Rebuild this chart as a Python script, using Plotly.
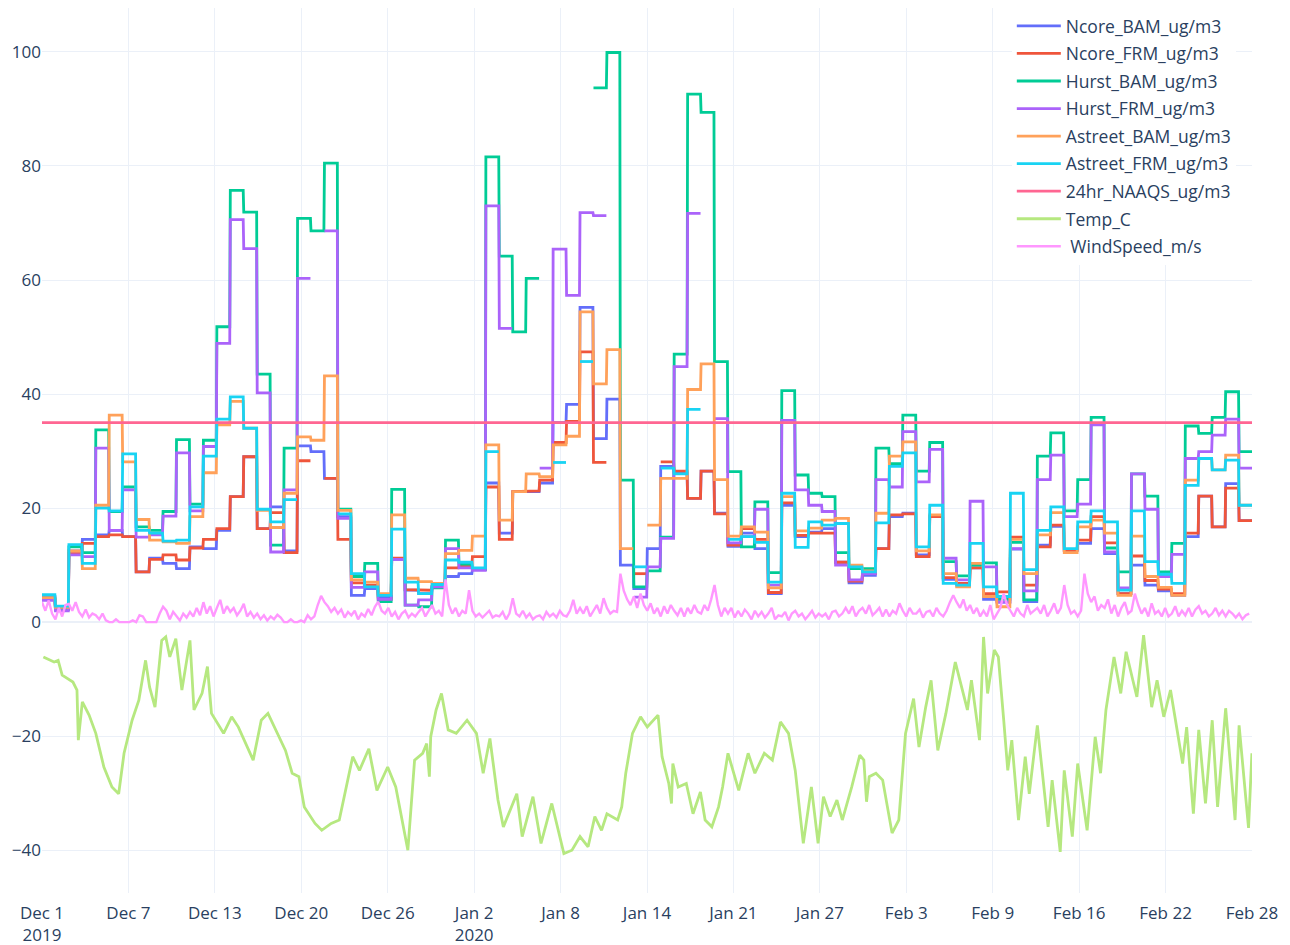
import numpy as np
import pandas as pd
import plotly.graph_objects as go

START = "2019-12-01"
N_DAYS = 90

# Daily 24-hr average PM2.5 values (Dec 1 2019 .. Feb 28 2020), None = no sample
ncore_bam = [4.5, 2.5, 12.5, 14.5, 15.3, 16.1, 15.0, 8.8, 11.2, 10.3,
             9.4, 13.2, 12.9, 16.1, 22.0, 29.0, 16.4, 20.2, 12.5, 30.9,
             29.9, 25.2, 18.5, 4.7, 5.9, 4.4, 11.0, 5.6, 5.0, 6.3,
             8.0, 8.5, 9.2, 24.4, 15.6, 22.9, 22.9, 24.4, 35.0, 38.2,
             55.2, 32.2, 39.1, 10.0, 5.9, 12.9, 27.3, 26.2, 21.7, 26.5,
             19.1, 13.3, 15.6, 12.9, 5.0, 20.5, 15.0, 15.8, 16.4, 10.5,
             6.9, 8.2, 12.9, 18.5, 19.1, 11.8, 18.5, 7.5, 6.5, 9.5,
             4.0, 3.5, 12.8, 3.6, 13.5, 16.8, 12.6, 13.8, 16.4, 12.0,
             5.0, 10.0, 6.5, 5.5, 4.7, 15.0, 22.1, 16.7, 24.3, 17.8]

ncore_frm = [4.2, 2.3, 12.0, 13.8, 15.0, 15.3, 15.0, 8.8, 11.0, 11.8,
             10.9, 13.0, 14.5, 16.4, 22.0, 29.0, 16.4, 19.2, 12.2, 28.3,
             None, 25.2, 14.5, 6.9, 6.5, 4.0, 11.2, 5.7, 5.6, 6.3,
             9.5, 9.8, 11.5, 23.7, 14.5, 22.9, 23.0, 24.9, 31.5, 35.2,
             47.4, 28.0, None, None, 8.5, None, 28.1, 26.5, 21.7, 26.5,
             19.0, 13.5, 16.4, 14.5, 5.2, 20.9, 15.2, 15.6, 15.6, 10.5,
             7.2, 8.5, 12.9, 18.8, 19.0, 11.5, 18.5, 7.8, 6.8, 9.5,
             5.0, 5.3, 14.9, 6.5, 13.2, 17.0, 12.6, 14.4, 18.5, 13.9,
             5.0, 11.6, 7.3, 5.8, 5.0, 15.6, 22.1, 16.7, 23.5, 17.8]

hurst_bam = [4.0, 2.2, 13.2, 12.2, 33.7, 19.4, 23.7, 16.7, 16.1, 19.4,
             32.0, 20.7, 31.9, 51.8, 75.7, 71.9, 43.5, 13.5, 30.5, 70.8,
             68.6, 80.5, 19.8, 8.0, 10.3, 3.6, 23.3, 3.0, 2.7, 6.0,
             14.4, 10.2, 9.2, 81.6, 64.2, 50.9, 60.3, None, None, None,
             None, 93.7, 99.9, 24.9, 6.2, 9.0, 14.9, 47.0, 92.6, 89.4,
             45.7, 26.4, 13.2, 21.1, 8.7, 40.6, 25.8, 22.6, 22.0, 12.2,
             9.4, 9.4, 30.5, 27.8, 36.3, 26.5, 31.5, 10.6, 8.1, 10.0,
             10.4, 4.0, 14.0, 3.9, 29.1, 33.2, 19.5, 25.0, 35.9, 13.0,
             8.8, 26.0, 22.1, 8.8, 13.8, 34.4, 33.1, 35.9, 40.4, 29.9]

hurst_frm = [3.8, 2.0, 11.8, 11.5, 30.5, 16.1, 23.2, 14.9, 15.3, 18.6,
             29.7, 19.5, 30.8, 48.9, 70.6, 65.5, 40.2, 12.3, 23.2, 60.3,
             None, 68.6, 18.2, 6.1, 8.8, 4.0, 11.0, 3.0, 3.9, 6.2,
             12.9, 9.5, 9.1, 73.0, 51.5, None, None, 27.0, 65.4, 57.3,
             71.8, 71.3, None, None, 4.4, 9.7, 14.7, 44.8, 71.7, None,
             35.7, 13.9, 15.0, 19.8, 6.5, 35.4, 23.2, 20.5, 19.4, 10.0,
             7.4, 8.5, 25.0, 23.7, 33.4, 24.6, 30.3, 11.2, 7.4, 21.2,
             9.7, 3.5, 12.9, 5.5, 25.0, 29.3, 18.5, 20.7, 34.6, 12.3,
             6.0, 26.0, 19.8, 8.0, 11.9, 28.7, 29.9, 32.8, 35.6, 27.0]

astreet_bam = [4.3, 2.6, 12.5, 9.4, 20.5, 36.3, 28.1, 18.0, 14.4, 14.1,
               13.8, 18.5, 26.2, 34.6, 38.7, 34.0, 19.6, 16.6, 22.6, 32.5,
               31.9, 43.2, 19.6, 7.4, 7.0, 5.0, 18.8, 7.7, 7.1, 6.8,
               12.0, 12.6, 15.1, 31.1, 17.9, 22.9, 26.0, 25.5, 31.1, 32.6,
               54.4, 41.8, 47.8, 12.9, None, 17.0, 25.2, 25.2, 40.8, 45.3,
               25.0, 15.1, 16.7, 15.8, 6.0, 22.0, 16.0, 16.5, 17.9, 18.2,
               10.0, 9.0, 19.1, 29.1, 31.6, 12.5, 18.8, 8.5, 6.2, 10.3,
               4.5, 2.7, 14.5, 8.5, 15.3, 19.2, 12.2, 16.7, 17.9, 15.6,
               4.7, 15.1, 8.0, 6.1, 4.7, 24.9, 28.7, 26.7, 29.3, 20.5]

astreet_frm = [4.8, 2.8, 13.6, 10.3, 20.0, 19.5, 29.5, 16.1, 15.6, 14.2,
               14.4, 20.2, 29.1, 35.6, 39.5, 34.0, 19.8, 17.6, 21.5, None,
               None, None, 19.0, 8.5, 6.2, 4.7, 16.3, 7.0, 5.0, 6.6,
               10.9, 10.5, 9.5, 29.9, None, None, None, None, 28.0, None,
               45.7, None, None, None, 9.7, None, 27.0, 26.0, 37.3, None,
               None, 14.5, 15.0, 14.0, 7.0, 22.6, 13.1, 17.6, 17.0, 17.3,
               9.7, 8.8, 17.4, 27.3, 29.7, 13.2, 20.5, 6.8, 6.5, 13.8,
               6.2, 4.5, 22.6, 9.2, 16.1, 20.2, 12.9, 17.6, 19.5, 17.6,
               5.6, 19.5, 10.6, 8.4, 6.8, 24.0, 28.7, 26.7, 28.4, 20.5]

naaqs_24hr = 35.0

# Temperature readings: time as day offset from Dec 1 00:00, value in deg C
temp_day = [0.1, 0.9, 1.2, 1.5, 2.3, 2.6, 2.7, 3.0, 3.5, 4.0,
            4.6, 5.2, 5.7, 6.1, 6.7, 7.2, 7.7, 8.0, 8.4, 8.9,
            9.2, 9.5, 9.95, 10.4, 11.0, 11.3, 11.9, 12.3, 12.6, 13.5,
            14.1, 14.6, 15.7, 16.3, 16.8, 17.4, 18.1, 18.6, 19.1, 19.5,
            20.3, 20.8, 21.5, 22.1, 22.6, 23.1, 23.6, 24.3, 24.9, 25.7,
            26.3, 26.9, 27.2, 27.7, 28.3, 28.6, 28.8, 28.9, 29.3, 29.7,
            30.2, 30.8, 31.6, 32.3, 32.8, 33.3, 33.9, 34.3, 35.3, 35.7,
            36.5, 37.1, 37.9, 38.8, 39.4, 40.0, 40.6, 41.1, 41.6, 42.0,
            42.8, 43.1, 43.4, 43.9, 44.5, 45.0, 45.8, 46.1, 46.6, 46.8,
            46.9, 47.3, 47.9, 48.4, 48.95, 49.3, 49.8, 50.3, 50.6, 51.0,
            51.8, 52.5, 53.0, 53.7, 54.3, 54.9, 55.5, 56.0, 56.6, 57.2,
            57.7, 58.1, 58.6, 59.1, 59.5, 60.2, 60.8, 61.1, 61.3, 61.5,
            62.0, 62.5, 62.9, 63.2, 63.7, 64.2, 64.8, 65.2, 65.7, 66.1,
            66.6, 67.2, 67.9, 68.8, 69.1, 69.7, 70.0, 70.3, 70.8, 71.1,
            71.5, 71.8, 72.1, 72.6, 73.1, 73.4, 74.0, 74.5, 74.8, 75.1,
            75.7, 76.0, 76.6, 77.0, 77.7, 78.3, 78.7, 79.1, 79.7, 80.2,
            80.6, 81.1, 81.4, 81.9, 82.5, 82.9, 83.4, 83.9, 84.8, 85.1,
            85.6, 86.0, 86.5, 87.0, 87.4, 88.0, 88.7, 89.0, 89.7, 89.95]

temp_c = [-6.1, -7.0, -6.7, -9.3, -10.5, -11.9, -20.7, -14.0, -16.3, -19.5,
          -25.4, -28.9, -30.1, -23.0, -17.2, -13.7, -6.7, -11.4, -14.9, -3.2,
          -2.6, -6.1, -2.9, -11.9, -3.2, -15.4, -12.5, -7.8, -16.0, -19.5,
          -16.6, -18.4, -24.2, -17.2, -16.0, -18.9, -22.5, -26.5, -27.1, -32.4,
          -35.3, -36.5, -35.3, -34.7, -28.9, -23.6, -26.0, -22.2, -29.5, -25.4,
          -28.9, -35.9, -40.0, -24.2, -23.0, -21.3, -27.1, -20.1, -15.4, -12.5,
          -18.9, -19.5, -17.2, -19.5, -26.5, -20.4, -31.2, -35.9, -30.1, -37.6,
          -30.6, -38.8, -31.8, -40.6, -40.0, -37.6, -39.4, -34.1, -36.5, -33.6,
          -34.7, -32.4, -26.5, -19.5, -16.6, -18.4, -16.3, -23.6, -28.3, -31.8,
          -24.8, -28.9, -28.3, -33.6, -29.8, -34.7, -35.9, -32.4, -28.9, -23.0,
          -29.5, -23.0, -26.5, -23.0, -24.2, -17.5, -19.5, -26.0, -38.8, -28.9,
          -38.8, -30.6, -34.1, -31.2, -34.7, -28.9, -23.3, -24.2, -31.5, -27.1,
          -26.5, -27.7, -33.0, -37.0, -34.7, -19.5, -13.4, -21.9, -14.9, -10.2,
          -22.5, -16.0, -7.0, -15.4, -10.2, -20.7, -2.6, -12.5, -4.9, -6.1,
          -17.2, -26.0, -20.7, -34.7, -23.6, -30.1, -18.1, -29.5, -35.9, -27.7,
          -40.3, -26.0, -37.6, -24.8, -36.5, -20.1, -26.5, -15.4, -6.1, -12.5,
          -5.2, -10.2, -13.1, -2.3, -14.9, -10.2, -16.6, -11.9, -24.8, -18.4,
          -33.6, -18.9, -31.8, -17.2, -32.4, -15.1, -34.7, -18.1, -36.1, -23.0]

# Wind speed, 6-hourly (00, 06, 12, 18 h) for each day, m/s
windspeed = [
    3.5, 2.0, 3.8, 1.5,  0.5, 2.5, 1.0, 3.0,  3.2, 2.0, 3.5, 1.8,  1.0, 2.2, 0.8, 1.5,
    1.2, 0.5, 1.5, 0.3,  0.0, 0.0, 0.5, 0.0,  0.0, 0.0, 0.0, 0.3,  0.0, 1.2, 1.0, 0.0,
    0.0, 0.0, 0.0, 1.5,  2.7, 2.0, 0.5, 1.8,  1.0, 0.3, 1.5, 0.8,  1.8, 1.0, 2.5, 1.2,
    3.5, 1.5, 2.8, 1.0,  2.5, 3.9, 1.5, 2.8,  1.8, 2.5, 1.2, 2.0,  3.2, 1.0, 1.8, 0.8,
    1.5, 0.5, 1.2, 0.3,  1.0, 0.5, 1.3, 0.8,  0.0, 0.0, 0.5, 0.0,  0.0, 0.3, 0.0, 1.2,
    0.5, 1.0, 3.0, 4.6,  3.5, 2.8, 1.8, 2.5,  1.5, 2.2, 0.8, 1.8,  1.2, 2.0, 0.5, 1.5,
    1.0, 2.3, 1.2, 2.7,  3.6, 2.0, 1.5, 2.5,  1.0, 1.8, 0.5, 1.5,  2.0, 0.8, 1.5, 1.0,
    1.8, 2.5, 1.0, 2.0,  3.0, 1.5, 2.0, 1.0,  7.5, 3.0, 1.5, 2.5,  1.0, 2.0, 1.5, 5.6,
    2.0, 1.0, 1.5, 0.8,  1.5, 2.0, 0.8, 1.2,  1.0, 1.8, 0.5, 1.5,  4.2, 1.5, 1.0, 2.0,
    0.8, 1.5, 0.5, 1.0,  1.2, 0.5, 1.8, 1.0,  1.5, 0.8, 2.0, 1.2,  1.0, 2.0, 3.9, 1.5,
    2.5, 1.5, 2.8, 1.0,  2.0, 3.0, 1.5, 4.2,  2.5, 1.5, 2.0, 1.8,  8.5, 5.5, 4.0, 3.0,
    4.5, 2.5, 5.0, 3.0,  2.0, 3.3, 1.5, 2.5,  1.0, 2.8, 1.5, 3.0,  2.0, 1.2, 2.5, 1.0,
    2.5, 1.5, 3.0, 1.8,  1.5, 3.0, 2.0, 4.0,  6.5, 3.0, 1.0, 2.5,  1.5, 2.5, 0.8, 2.0,
    1.0, 2.2, 1.5, 0.5,  2.0, 1.0, 1.8, 0.8,  1.5, 2.5, 0.5, 1.2,  1.0, 1.8, 0.3, 1.5,
    2.0, 1.0, 1.5, 0.5,  1.2, 2.0, 0.8, 1.5,  1.0, 1.5, 0.5, 1.8,  2.0, 1.0, 1.5, 2.5,
    1.5, 2.8, 1.0, 2.0,  2.5, 1.5, 3.0, 1.2,  1.8, 2.5, 1.0, 2.2,  1.0, 2.0, 1.5, 3.3,
    2.0, 1.0, 2.5, 1.5,  1.5, 2.2, 0.8, 1.8,  2.0, 1.0, 2.5, 1.5,  1.0, 2.0, 3.5, 4.7,
    3.5, 2.5, 4.0, 2.0,  3.0, 1.5, 2.5, 1.0,  2.0, 1.0, 3.0, 0.5,  1.5, 2.5, 5.0, 3.0,
    2.0, 1.0, 2.5, 1.5,  1.0, 3.0, 1.5, 2.0,  2.5, 1.5, 3.0, 1.0,  2.0, 3.3, 1.5, 2.5,
    6.5, 3.0, 1.5, 2.0,  1.0, 2.0, 8.5, 5.0,  3.5, 4.5, 2.0, 3.0,  2.5, 4.0, 1.5, 3.0,
    1.0, 2.5, 3.5, 1.5,  2.0, 5.0, 3.0, 1.5,  2.5, 1.0, 3.3, 1.5,  2.0, 1.0, 2.5, 1.0,
    1.5, 2.8, 1.0, 2.0,  1.2, 2.5, 1.0, 2.2,  2.8, 1.5, 2.0, 1.0,  1.5, 2.5, 1.2, 2.0,
    1.0, 2.0, 1.5, 0.8,  1.5, 0.5, 1.2, 1.5]

tick_labels = ["Dec 1<br>2019", "Dec 7", "Dec 13", "Dec 20", "Dec 26",
               "Jan 2<br>2020", "Jan 8", "Jan 14", "Jan 21", "Jan 27",
               "Feb 3", "Feb 9", "Feb 16", "Feb 22", "Feb 28"]

colors = ["#636EFA", "#EF553B", "#00CC96", "#AB63FA", "#FFA15A",
          "#19D3F3", "#FF6692", "#B6E880", "#FF97FF"]

hours = pd.date_range(START, periods=N_DAYS * 24, freq="h")
wind_times = pd.date_range(START, periods=len(windspeed), freq="6h")
temp_times = pd.Timestamp(START) + pd.to_timedelta(np.array(temp_day), unit="D")


def hourly(daily):
    return np.repeat(np.array(daily, dtype=float), 24)


fig = go.Figure()
pm_series = [("Ncore_BAM_ug/m3", ncore_bam), ("Ncore_FRM_ug/m3", ncore_frm),
             ("Hurst_BAM_ug/m3", hurst_bam), ("Hurst_FRM_ug/m3", hurst_frm),
             ("Astreet_BAM_ug/m3", astreet_bam), ("Astreet_FRM_ug/m3", astreet_frm)]
for i, (name, vals) in enumerate(pm_series):
    fig.add_trace(go.Scatter(x=hours, y=hourly(vals), mode="lines", name=name,
                             legendgroup=name,
                             line=dict(color=colors[i], width=2.8)))

fig.add_trace(go.Scatter(x=hours, y=np.full(len(hours), naaqs_24hr), mode="lines",
                         name="24hr_NAAQS_ug/m3", legendgroup="naaqs",
                         line=dict(color=colors[6], width=2.8)))
fig.add_trace(go.Scatter(x=temp_times, y=temp_c, mode="lines", name="Temp_C",
                         legendgroup="temp",
                         line=dict(color=colors[7], width=2.8)))
fig.add_trace(go.Scatter(x=wind_times, y=windspeed, mode="lines", name=" WindSpeed_m/s",
                         legendgroup="wind",
                         line=dict(color=colors[8], width=2.4)))

x0 = hours[0]
x1 = hours[-1]
tickvals = [x0 + (x1 - x0) * k / (len(tick_labels) - 1) for k in range(len(tick_labels))]

fig.update_layout(
    template="plotly_white",
    width=1282, height=937,
    margin=dict(l=34, r=38, t=0, b=52, autoexpand=False),
    font=dict(family="Open Sans, verdana, arial, sans-serif", size=17, color="#2a3f5f"),
    showlegend=True,
    legend=dict(x=0.8015, y=1.0, xanchor="left", yanchor="top", bgcolor="white",
                font=dict(size=17.5), itemwidth=44, traceorder="grouped",
                tracegroupgap=1.8),
    xaxis=dict(range=[x0, x1], tickmode="array", tickvals=tickvals, ticktext=tick_labels,
               showgrid=True, gridcolor="#EBF0F8", automargin=False,
               ticklabelstandoff=8),
    yaxis=dict(range=[-47.5, 107.7], dtick=20, gridcolor="#EBF0F8", automargin=False,
               zeroline=True, zerolinecolor="#EBF0F8", zerolinewidth=2),
)

fig.write_html("out.html")
